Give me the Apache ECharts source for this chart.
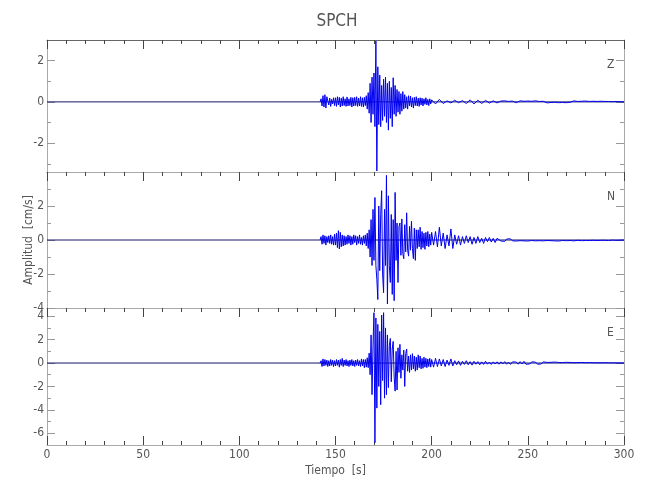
<!DOCTYPE html>
<html><head><meta charset="utf-8">
<script src="https://cdn.jsdelivr.net/npm/echarts@6/dist/echarts.min.js"></script>
<style>html,body{margin:0;padding:0;background:#fff}#c{width:650px;height:500px}</style>
</head><body><div id="c"></div><script>
// ---------------- data ----------------
const stationName = 'SPCH';
const componentNames = ['Z', 'N', 'E'];
const xLabel = 'Tiempo  [s]';
const yLabel = 'Amplitud  [cm/s]';
const timeRange = [0, 300];
const timeMajorStep = 50;

const onsetTime = 142;   // s: before this the trace is flat at 0
const earlyStep = 0.5;   // s between samples 142.0 .. 199.5
const lateStart = 200;   // s
const lateStep = 1;      // s between samples 200 .. 300

const zEarly = [0,0.15,-0.2,0.3,-0.25,0.35,-0.3,0.25,
  0.2,-0.15,0.18,-0.22,0.12,-0.1,0.2,-0.18,
  0.2,-0.22,0.25,-0.15,0.22,-0.25,0.18,-0.2,0.25,-0.18,0.15,-0.22,0.24,-0.2,0.15,-0.18,0.22,-0.25,0.2,-0.2,
  0.22,-0.18,0.25,-0.22,0.18,-0.2,0.25,-0.22,0.2,-0.25,0.22,-0.18,0.3,-0.35,0.45,-0.55,
  0.9,-1.0,1.2,-0.6,1.4,-1.2,
  2.95,-3.35,1.7,-1.1,1.3,-1.2,0.8,-0.9,1.1,-0.7,1.2,-1.0,0.9,-1.37,1.0,-0.8,0.7,-1.2,1.17,-0.6,0.8,-0.7,0.6,-0.5,0.5,-0.6,0.4,-0.45,0.5,-0.35,
  0.35,-0.3,0.25,-0.35,0.3,-0.2,0.28,-0.25,0.2,-0.3,0.22,-0.18,0.25,-0.2,0.18,-0.22,0.2,-0.15,0.18,-0.2,0.15,-0.12,0.2,-0.15,0.12,-0.18,0.15,-0.1];
const zLate = [0.1,0.05,-0.1,-0.05,0.12,0.08,-0.08,-0.12,0.05,0.1,
  -0.05,-0.1,0.08,0.12,-0.04,-0.1,0.06,0.1,-0.08,-0.06,
  0.1,0.04,-0.1,-0.05,0.08,0.06,-0.08,-0.04,0.07,0.05,
  -0.06,-0.07,0.05,0.06,-0.05,0.04,
  0.04,-0.03,0.05,-0.04,0.02,-0.05,0.04,0.03,-0.04,-0.02,
  0.05,-0.03,0.03,-0.05,0.04,-0.02,0.03,-0.04,0.05,-0.03,
  0.02,-0.04,0.03,0.04,-0.05,0.02,-0.03,0.04,-0.02,0.03,
  -0.04,0.05,-0.03,0.02,-0.04,0.03,-0.02,0.04,0.05,-0.04,
  0.02,-0.03,0.03,-0.02,0.04,-0.03,0.02,-0.02,0.03,-0.03,
  0.02,-0.02,0.03,-0.01,0.02,-0.03,0.02,-0.02,0.01,-0.02,
  0.02,-0.01,0.01,-0.01,0];

const nEarly = [0,0.2,-0.25,0.3,-0.2,0.25,-0.3,0.2,
  -0.15,0.25,-0.2,0.3,-0.25,0.2,-0.3,0.35,
  -0.3,0.4,-0.45,0.55,-0.53,0.45,-0.4,0.3,-0.35,0.25,-0.3,0.2,
  -0.25,0.3,-0.2,0.25,-0.3,0.2,-0.25,0.3,-0.15,0.25,-0.3,0.2,-0.2,0.3,-0.25,0.15,-0.3,0.25,-0.2,0.3,-0.35,0.4,-0.5,0.6,
  -1.0,1.2,-1.5,1.8,-1.2,
  2.5,-1.5,-2.3,-3.5,2.0,-1.8,1.5,2.9,-2.0,-3.1,
  1.8,-1.5,3.8,-3.76,2.6,-1.5,-2.5,1.5,-3.2,1.2,
  -3.57,2.8,-1.2,1.0,-2.5,0.8,1.0,-0.9,1.24,-0.8,
  -1.1,0.9,-0.7,1.6,-0.6,-0.95,0.8,-0.6,1.1,-0.5,
  -1.1,0.7,-1.2,0.6,
  -0.5,0.6,-0.4,0.75,-0.55,0.5,-0.45,0.4,-0.55,0.45,-0.35,0.5,-0.4,0.35,-0.3];
const nLate = [0.45,-0.3,0.5,-0.4,0.75,-0.35,0.4,-0.5,0.3,-0.35,0.65,
  -0.5,0.3,-0.25,0.25,-0.3,0.2,-0.2,0.25,-0.15,0.2,-0.25,0.15,-0.2,0.2,-0.15,0.1,-0.2,0.15,-0.1,0.15,-0.12,0.1,-0.15,0.1,
  0.08,-0.06,0.05,-0.08,0.06,-0.04,0.07,-0.05,0.04,-0.06,
  0.05,-0.04,0.06,-0.05,0.03,-0.06,0.05,-0.03,0.04,-0.05,
  0.06,-0.04,0.03,-0.05,0.04,-0.03,0.05,-0.04,0.03,-0.05,
  0.04,-0.06,0.05,-0.03,0.04,-0.04,0.06,-0.03,0.03,-0.05,
  0.04,-0.02,0.03,-0.04,0.05,-0.03,0.02,-0.03,0.04,-0.02,
  0.03,-0.03,0.02,-0.02,0.03,-0.02,0.02,-0.03,0.02,-0.01,
  0.02,-0.02,0.01,-0.01,0.01,0];

const eEarly = [0,0.2,-0.3,0.35,-0.25,0.3,-0.2,0.25,
  -0.3,0.2,-0.25,0.3,-0.2,0.25,-0.3,0.2,
  -0.25,0.3,-0.2,0.25,-0.35,0.3,-0.2,0.4,-0.3,0.25,-0.2,0.3,-0.25,0.2,-0.3,0.25,-0.2,0.3,-0.25,0.2,
  -0.3,0.25,-0.2,0.3,-0.25,0.2,-0.3,0.35,-0.25,0.3,-0.4,0.3,-0.35,0.45,-0.4,0.85,
  -1.0,2.4,-2.7,1.5,
  4.3,-6.8,3.85,-3.85,3.3,-2.0,2.7,-3.56,4.1,-1.5,
  4.3,-3.0,3.0,-2.7,2.4,-2.1,1.5,2.1,-1.6,1.2,
  1.85,-1.2,-2.4,1.0,-2.3,1.3,-0.8,1.6,-1.3,0.7,
  -0.6,1.1,-2.0,0.8,1.2,-0.7,0.6,-0.8,0.7,-0.6,
  0.8,-0.5,0.6,-0.7,0.5,-0.6,0.7,-0.4,0.6,-0.5,
  0.4,-0.45,0.5,-0.35,0.4,-0.4,0.35,-0.3,0.4,-0.35];
const eLate = [0.3,-0.35,0.4,-0.3,0.35,-0.25,0.3,-0.3,0.25,-0.2,0.35,-0.25,
  0.2,-0.15,0.18,-0.2,0.15,-0.12,0.2,-0.15,0.12,-0.18,0.15,-0.1,0.12,-0.15,0.1,-0.12,0.15,-0.1,0.08,-0.12,0.1,-0.08,0.1,-0.1,
  0.1,-0.08,0.12,-0.1,0.08,-0.12,0.1,-0.06,0.08,-0.1,
  0.12,-0.08,0.15,-0.1,0.06,-0.08,0.1,-0.06,0.08,-0.1,
  0.06,-0.08,0.1,-0.06,0.05,-0.08,0.06,-0.05,0.08,-0.06,
  0.05,-0.06,0.04,-0.05,0.06,-0.04,0.05,-0.04,0.03,-0.05,
  0.04,-0.03,0.05,-0.04,0.03,-0.03,0.04,-0.02,0.03,-0.03,
  0.02,-0.03,0.02,-0.02,0.03,-0.02,0.02,-0.01,0.02,-0.02,
  0.01,-0.01,0.01,-0.01,0];

const yRangeZ = [-3.4, 3.0];
const yRangeN = [-4.0, 4.0];
const yRangeE = [-7.0, 4.7];
const labelTicksZ = [-2, 0, 2];
const labelTicksN = [-4, -2, 0, 2];
const labelTicksE = [-6, -4, -2, 0, 2, 4];
const minorTicksZ = [-3, -1, 1];
const minorTicksN = [-3, -1, 1, 3];
const minorTicksE = [-5, -3, -1, 1, 3];

// ---------------- layout / style ----------------
const FONT = "'DejaVu Sans','Liberation Sans',sans-serif";
const FSTYLE = 'condensed';
const TXT = '#555';
const panels = [
  {early: zEarly, late: zLate, range: yRangeZ, labels: labelTicksZ, minor: minorTicksZ, top: 40, height: 132},
  {early: nEarly, late: nLate, range: yRangeN, labels: labelTicksN, minor: minorTicksN, top: 172, height: 136},
  {early: eEarly, late: eLate, range: yRangeE, labels: labelTicksE, minor: minorTicksE, top: 308, height: 137}
];
const LEFT = 47, WIDTH = 577;

function traceData(early, late) {
  const d = [];
  early.forEach((v, i) => d.push([onsetTime + i * earlyStep, v]));
  late.forEach((v, i) => d.push([lateStart + i * lateStep, v]));
  return d;
}
const txt = (size) => ({fontFamily: FONT, fontStyle: FSTYLE, fontSize: size, fontWeight: 'normal', color: TXT});

const grid = [], xAxis = [], yAxis = [], series = [], titles = [];
titles.push({text: stationName, left: 332, top: 8, textAlign: 'center', textStyle: txt(17)});

panels.forEach((p, i) => {
  grid.push({left: LEFT, top: p.top, width: WIDTH, height: p.height, outerBoundsMode: 'none'});
  const isLast = i === panels.length - 1;
  xAxis.push({gridIndex: i, type: 'value', position: 'top', min: timeRange[0], max: timeRange[1], interval: timeMajorStep,
    axisLine: {show: true, onZero: false, lineStyle: {color: i === 0 ? '#666' : '#aaa', width: 1}},
    axisTick: {show: true, inside: true, length: 9, lineStyle: {color: '#444'}},
    minorTick: {show: true, splitNumber: 5, length: 4, lineStyle: {color: '#444'}},
    axisLabel: {show: false}, splitLine: {show: false}});
  xAxis.push({gridIndex: i, type: 'value', position: 'bottom', min: timeRange[0], max: timeRange[1], interval: timeMajorStep,
    axisLine: {show: true, onZero: false, lineStyle: {color: '#aaa', width: 1}},
    axisTick: {show: isLast, inside: true, length: 9, lineStyle: {color: '#444'}},
    minorTick: {show: isLast, splitNumber: 5, length: 4, lineStyle: {color: '#444'}},
    axisLabel: Object.assign({show: isLast, margin: 4}, txt(12)),
    name: isLast ? xLabel : '', nameLocation: 'middle', nameGap: 20, nameMoveOverlap: false,
    nameTextStyle: txt(12), splitLine: {show: false}});
  yAxis.push({gridIndex: i, type: 'value', position: 'left', min: p.range[0], max: p.range[1],
    axisLine: {show: true, onZero: false, lineStyle: {color: '#aaa', width: 1}},
    axisTick: {show: true, inside: true, length: 8, customValues: p.labels, lineStyle: {color: '#999'}},
    axisLabel: Object.assign({show: true, customValues: p.labels, margin: 3}, txt(12)),
    name: i === 1 ? yLabel : '', nameLocation: 'middle', nameGap: 12, nameMoveOverlap: false,
    nameTextStyle: txt(12), splitLine: {show: false}});
  yAxis.push({gridIndex: i, type: 'value', position: 'right', min: p.range[0], max: p.range[1],
    axisLine: {show: true, onZero: false, lineStyle: {color: '#aaa', width: 1}},
    axisTick: {show: true, inside: true, length: 8, customValues: p.labels, lineStyle: {color: '#999'}},
    axisLabel: {show: false}, splitLine: {show: false}});
  // zero baseline of the record (dark), trace drawn on top of it
  series.push({type: 'line', xAxisIndex: 2 * i, yAxisIndex: 2 * i, data: [[timeRange[0], 0], [timeRange[1], 0]],
    showSymbol: false, symbol: 'none', animation: false, silent: true, z: 1,
    lineStyle: {color: '#15156a', width: 1}});
  series.push({type: 'line', xAxisIndex: 2 * i, yAxisIndex: 2 * i, data: traceData(p.early, p.late),
    showSymbol: false, symbol: 'none', sampling: null, animation: false, clip: true, z: 2,
    lineStyle: {color: '#0000f0', width: 1}});
  titles.push({text: componentNames[i], left: 602, top: p.top + 14, textStyle: txt(12)});
});
// overlay grids carrying only the minor y ticks
panels.forEach((p, i) => {
  const g = panels.length + i;
  grid.push({left: LEFT, top: p.top, width: WIDTH, height: p.height, outerBoundsMode: 'none'});
  xAxis.push({gridIndex: g, type: 'value', min: timeRange[0], max: timeRange[1], show: false});
  ['left', 'right'].forEach(pos => yAxis.push({gridIndex: g, type: 'value', position: pos, min: p.range[0], max: p.range[1],
    axisLine: {show: false, onZero: false},
    axisTick: {show: true, inside: true, length: 4, customValues: p.minor, lineStyle: {color: '#999'}},
    axisLabel: {show: false}, splitLine: {show: false}}));
});

const chart = echarts.init(document.getElementById('c'), null, {renderer: 'canvas'});
chart.setOption({animation: false, backgroundColor: '#fff', title: titles, grid, xAxis, yAxis, series});
</script></body></html>
